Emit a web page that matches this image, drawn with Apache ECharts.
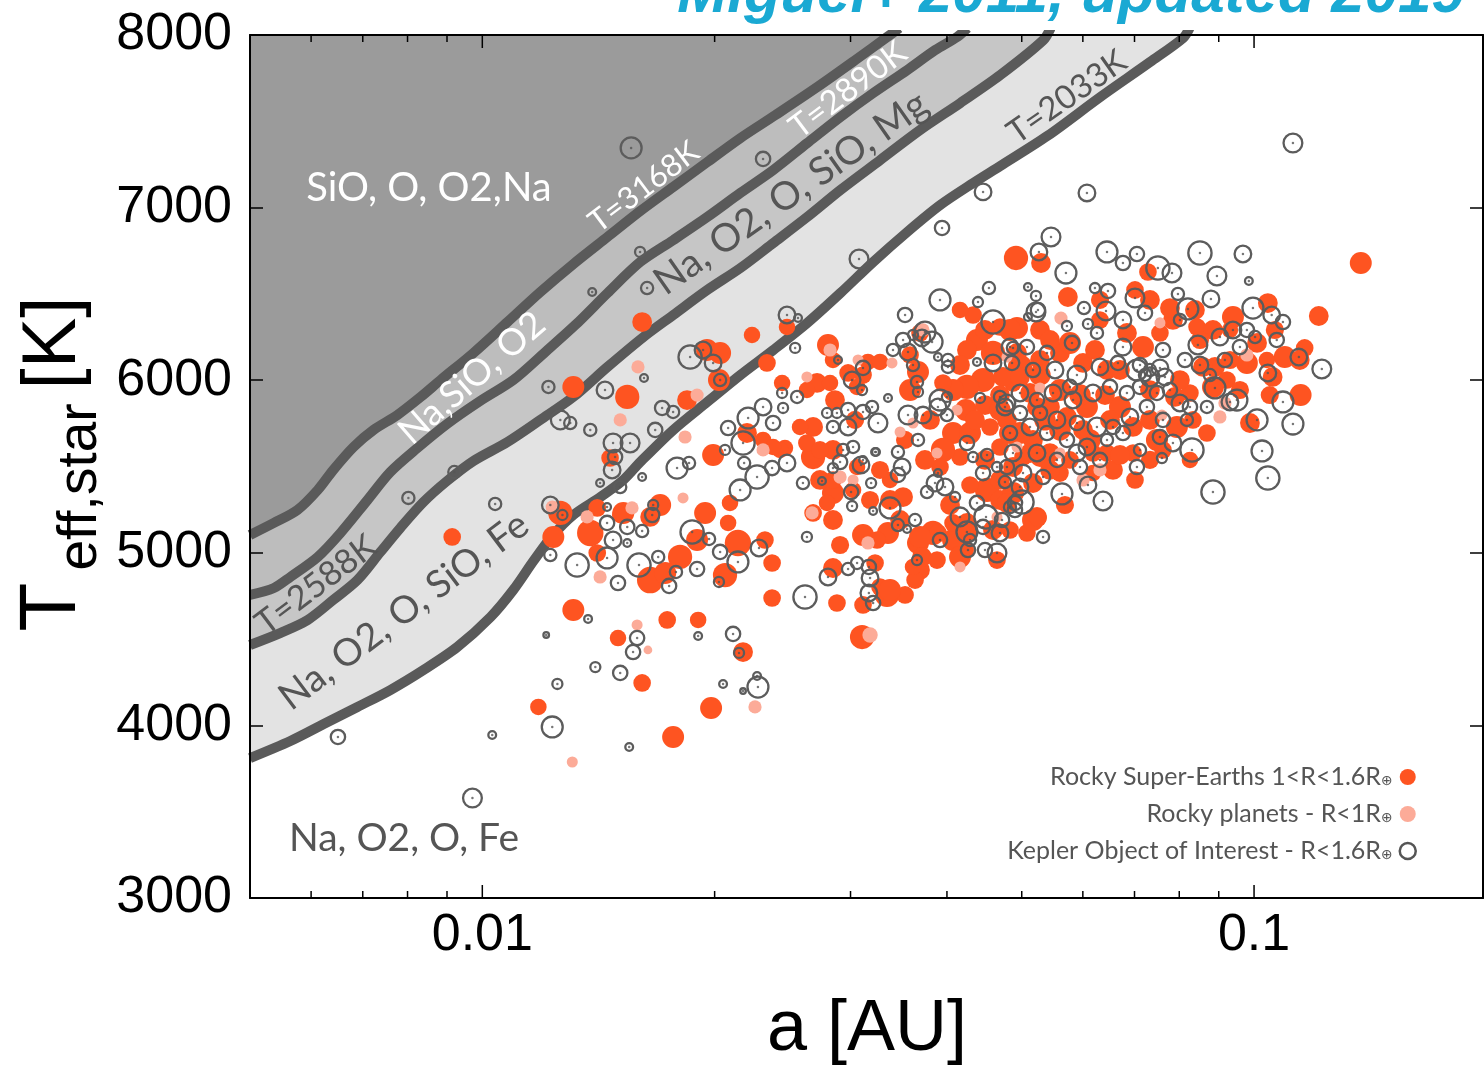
<!DOCTYPE html>
<html><head><meta charset="utf-8">
<script src="https://cdn.jsdelivr.net/npm/echarts@6/dist/echarts.min.js"></script>
<style>html,body{margin:0;padding:0;background:#fff}#c{width:1484px;height:1068px}</style>
</head><body><div id="c"></div>
<script>
// ---------- axes ----------
const xMin = 0.005, xMax = 0.198;
const yMin = 3000, yMax = 8000, yStep = 1000;
const xMajorTicks = [0.01, 0.1];
const xMinorTicks = [0.006, 0.007, 0.008, 0.009, 0.02, 0.03, 0.04, 0.05, 0.06, 0.07, 0.08, 0.09];
const xTickLabels = ['0.01', '0.1'];

// ---------- condensation boundaries [a (AU), Teff (K)] ----------
const curve3168 = [[0.005,5103],[0.00537,5173],[0.00576,5248],[0.00612,5364],[0.00641,5480],[0.00681,5613],[0.00723,5712],[0.00776,5798],[0.00832,5903],[0.00883,6001],[0.00974,6158],[0.01078,6337],[0.01189,6511],[0.01312,6673],[0.01453,6830],[0.01602,6980],[0.01768,7120],[0.01957,7264],[0.0216,7403],[0.024,7537],[0.02718,7699],[0.03044,7855],[0.03348,7989],[0.0347,8040]];
const curve2890 = [[0.005,4756],[0.00537,4796],[0.00564,4860],[0.00612,4976],[0.00655,5115],[0.0071,5306],[0.0076,5468],[0.00824,5607],[0.009,5746],[0.00994,5880],[0.01097,6001],[0.01207,6164],[0.0132,6320],[0.01453,6505],[0.01602,6685],[0.01768,6812],[0.01957,6946],[0.0216,7085],[0.02383,7218],[0.02637,7374],[0.02911,7525],[0.03211,7664],[0.03553,7797],[0.03863,7913],[0.04125,7989],[0.0425,8040]];
const curve2588 = [[0.005,4466],[0.00547,4535],[0.00594,4611],[0.00641,4727],[0.00689,4842],[0.00738,5005],[0.00783,5144],[0.00839,5294],[0.009,5416],[0.00974,5532],[0.01078,5642],[0.01189,5770],[0.01312,5903],[0.01453,6077],[0.01617,6250],[0.01768,6378],[0.01957,6523],[0.0216,6650],[0.02383,6795],[0.02637,6946],[0.02911,7102],[0.03279,7276],[0.03694,7450],[0.04162,7606],[0.0469,7768],[0.05334,7971],[0.0545,8040]];
const curve2033 = [[0.005,3811],[0.00564,3910],[0.00623,4008],[0.00689,4107],[0.0076,4205],[0.00839,4321],[0.00928,4454],[0.01025,4628],[0.01097,4785],[0.01165,4953],[0.01226,5086],[0.01312,5219],[0.01422,5323],[0.01523,5422],[0.01602,5526],[0.01768,5712],[0.01957,5874],[0.0216,6030],[0.02383,6175],[0.02637,6332],[0.02911,6505],[0.0321,6685],[0.03553,6859],[0.03921,7015],[0.04328,7143],[0.0469,7241],[0.05397,7415],[0.06321,7641],[0.07336,7844],[0.08094,7983],[0.0825,8040]];

// ---------- planets [a (AU), Teff (K), R (R_earth)] ----------
const superEarths = [
[0.01611,6337,1.2],[0.01312,5961,1.33],[0.01541,5903,1.47],[0.01955,6175,1.33],[0.02033,6158,1.33],[0.02026,6001,1.33],[0.01842,5885,1.2],
[0.00914,5092,1.07],[0.01312,4669,1.33],[0.01499,4506,1.0],[0.01182,4107,1.0],[0.01262,5231,1.47],[0.01236,5092,1.33],[0.0138,5115,1.6],
[0.01409,4999,1.07],[0.01523,5231,1.33],[0.01409,5260,1.07],[0.01464,5549,1.07],[0.01767,3933,1.33],[0.01979,4101,1.33],[0.01991,5567,1.33],
[0.02467,5607,1.0],[0.02683,5555,1.47],[0.017,5277,1.33],[0.01944,5231,1.33],[0.02094,5289,1.0],[0.02082,5173,1.0],[0.01509,5219,1.0],
[0.0165,5208,1.2],[0.01804,4976,1.47],[0.0165,4842,1.6],[0.01726,4883,1.33],[0.01898,5074,1.33],[0.02144,5057,1.6],[0.02063,4871,1.47],
[0.02324,5074,1.07],[0.02374,4941,1.07],[0.02374,4738,1.07],[0.02881,4709,1.07],[0.03105,4512,1.47],[0.03114,4698,1.07],[0.03114,5103,1.33],
[0.03355,5115,1.33],[0.03669,5057,1.33],[0.03691,4900,1.2],[0.03637,4842,1.07],[0.03345,4756,1.47],[0.0353,4756,1.07],[0.03276,4802,1.07],
[0.02847,4912,1.2],[0.03228,4941,1.07],[0.02683,5231,1.07],[0.02847,5190,1.2],[0.02847,5347,1.33],[0.02739,5422,1.2],[0.01736,4611,1.07],
[0.01904,4611,1.0],[0.02177,4425,1.2],[0.01611,4246,1.07],[0.04196,5016,1.33],[0.04073,5074,1.33],[0.03837,5115,1.47],[0.04246,5173,1.2],
[0.02236,6262,1.0],[0.02482,6308,1.0],[0.02805,6204,1.33],[0.02847,6117,1.0],[0.02338,6100,1.07],[0.02446,5984,1.0],[0.02715,5984,1.2],
[0.02634,5943,1.0],[0.02864,5885,1.2],[0.02822,5984,1.0],[0.0316,6106,1.0],[0.03276,6106,1.0],[0.03114,6030,1.07],[0.02978,6042,1.07],
[0.03059,5961,1.0],[0.03691,6274,1.07],[0.03583,6146,1.07],[0.03669,6048,1.33],[0.03583,5943,1.33],[0.04324,6378,1.07],[0.04686,6308,1.07],
[0.0493,6303,1.33],[0.0528,6291,1.2],[0.04375,6233,1.33],[0.04246,6175,1.2],[0.04589,6158,1.47],[0.04455,6001,1.47],[0.04246,5961,1.47],
[0.04073,5943,1.33],[0.03953,5984,1.07],[0.04871,5984,1.07],[0.04974,6077,1.47],[0.05125,5926,1.2],[0.0528,6117,1.2],[0.05233,5845,1.2],
[0.04073,5694,1.33],[0.04285,5694,1.33],[0.04548,5729,1.07],[0.04828,5694,1.33],[0.05171,5654,1.2],[0.04159,5555,1.07],[0.03953,5596,1.47],
[0.03918,5497,1.07],[0.04686,5613,1.07],[0.05019,5555,1.07],[0.0528,5555,1.2],[0.04508,5364,1.47],[0.04686,5306,1.2],[0.04871,5347,1.33],
[0.05171,5404,1.2],[0.05233,5208,1.2],[0.04589,5132,1.2],[0.04246,5132,1.33],[0.05078,5115,1.07],[0.04073,5173,1.07],[0.03894,5115,1.07],
[0.03691,5092,1.33],[0.03713,4976,1.2],[0.03615,4918,1.0],[0.03375,4785,1.33],[0.03247,5074,1.07],[0.03375,5306,1.2],[0.03509,5323,1.2],
[0.03375,5422,1.0],[0.02847,5596,1.2],[0.03059,5497,1.0],[0.02683,5729,1.2],[0.02634,5636,1.07],[0.0258,5729,1.0],[0.02739,5596,1.07],
[0.02431,5596,1.0],[0.02203,5694,1.2],[0.02311,5654,1.0],[0.02381,5613,1.0],[0.02847,5422,1.07],[0.02797,5289,1.0],[0.03023,5364,1.0],
[0.04159,4976,1.33],[0.03883,4958,1.07],[0.04644,4958,1.07],[0.05171,5190,1.33],[0.04285,5393,1.07],[0.04915,6708,1.47],[0.05296,6679,1.2],
[0.05738,6482,1.2],[0.07286,6627,1.07],[0.0701,6523,1.07],[0.1375,6679,1.33],[0.1213,6372,1.2],[0.1042,6447,1.2],[0.0939,6366,1.33],
[0.1163,6187,1.07],[0.1146,6117,1.2],[0.1096,6134,1.33],[0.09788,6100,1.33],[0.1039,6117,1.0],[0.1149,5914,1.33],[0.1057,6019,1.2],
[0.1009,6216,1.2],[0.08899,6077,1.2],[0.08586,6077,1.2],[0.09222,6001,1.07],[0.08846,5961,1.33],[0.07898,5903,1.2],[0.08259,5926,1.07],
[0.09878,5752,1.2],[0.07944,5729,1.33],[0.07484,5654,1.33],[0.0762,5596,1.07],[0.06565,5480,1.2],[0.05248,5202,1.07],[0.04784,5289,1.2],
[0.04828,5132,1.07],[0.06074,5845,1.33],[0.06703,5845,1.33],[0.06448,6059,1.2],[0.06003,6100,1.2],[0.05604,6158,1.2],[0.0493,6158,1.2],
[0.04828,6291,1.33],[0.05774,6216,1.33],[0.06844,6274,1.2],[0.07179,6192,1.33],[0.07552,6274,1.07],[0.07851,6349,1.2],[0.08436,6308,1.07],
[0.08846,6291,1.2],[0.09306,6291,1.0],[0.04728,6019,1.2],[0.04974,6019,1.2],[0.0544,5845,1.2],[0.05722,5787,1.2],[0.06003,5712,1.2],
[0.04974,5694,1.33],[0.04784,5770,1.2],[0.05125,5578,1.2],[0.0544,5578,1.2],[0.05774,5538,1.07],[0.04871,5497,1.2],[0.05604,5462,1.07],
[0.06184,5578,1.07],[0.06968,5729,1.2],[0.08334,5770,1.07],[0.08688,5694,1.07],[0.06968,5578,1.07],[0.06448,5578,1.07],[0.06184,5462,1.0],
[0.08383,6407,1.2],[0.06315,6349,1.07],[0.0733,6465,1.2],[0.07781,6418,1.2],[0.0701,5422,1.07],[0.04232,5827,1.33],[0.04481,5856,1.2],
[0.05604,5943,1.33],[0.0641,5914,1.2],
[0.04686,5827,1.3],[0.05359,5770,1.3],[0.06129,5654,1.3],[0.05604,5712,1.3],[0.06506,5770,1.2],[0.05949,5914,1.3],[0.0528,6030,1.3],
[0.04686,5914,1.2],[0.04349,5770,1.2],[0.04481,5538,1.2],[0.0544,5480,1.2],[0.06703,5567,1.2],[0.0733,5770,1.2],[0.06221,6175,1.2],
[0.0544,6233,1.2],[0.04481,6291,1.2],[0.04159,6088,1.2],[0.0733,5943,1.2],[0.08016,6001,1.2],[0.09306,6117,1.1],[0.09587,5943,1.1],
[0.1048,5914,1.1],[0.03803,5770,1.2],[0.03746,5538,1.2],[0.0353,5654,1.1],[0.03276,5480,1.1],[0.0318,5306,1.1],[0.03478,5190,1.2],
[0.04037,5277,1.2],[0.04686,5422,1.2],[0.05688,5277,1.1],[0.0733,5538,1.1],[0.08259,5538,1.0],[0.06703,6059,1.2],[0.08509,6233,1.1],
[0.1064,6291,1.1],[0.03041,5770,1.1],[0.02908,5045,1.1],[0.04159,6407,1.0],[0.06315,6465,1.1]
];
const rockyPlanets = [
[0.01591,6077,0.8],[0.01509,5770,0.8],[0.01232,5265,0.8],[0.01367,5208,0.8],[0.01563,5260,0.8],[0.01421,4860,0.8],[0.01308,3788,0.67],
[0.01587,4582,0.67],[0.0182,5318,0.67],[0.01639,4437,0.53],[0.02256,4107,0.8],[0.02908,5439,0.8],[0.03023,5422,0.67],[0.0316,5057,0.8],
[0.02675,5231,0.8],[0.0318,4524,0.93],[0.04159,4918,0.67],[0.01898,5914,0.8],[0.01831,5671,0.8],[0.02311,5596,0.8],[0.02634,6019,0.67],
[0.02822,6175,0.8],[0.03068,6117,0.67],[0.03395,6100,0.67],[0.03478,5700,0.67],[0.03724,6291,0.8],[0.03615,5752,0.67],[0.03883,5578,0.67],
[0.04122,5827,0.67],[0.04644,5208,0.67],[0.0528,5955,0.67],[0.05621,6360,0.8],[0.09788,6146,0.8],[0.09032,5787,0.8],[0.06315,5480,0.8],
[0.06003,5422,0.8],[0.05604,5578,0.67],[0.0493,5613,0.67],[0.04784,6134,0.67],[0.07552,6332,0.67],[0.07597,5798,0.67],[0.09167,5868,0.8]
];
const koi = [
[0.01559,7346,1.33],[0.02311,7282,0.93],[0.06074,7085,1.07],[0.04455,7091,1.07],[0.1123,7374,1.2],[0.03942,6882,0.93],[0.03077,6702,1.2],
[0.01601,6743,0.67],[0.01388,6511,0.53],[0.01635,6534,0.8],[0.01218,5961,0.8],[0.01442,5943,1.07],[0.0162,6013,0.53],[0.0171,5839,0.93],
[0.01767,5816,0.8],[0.01859,6134,1.47],[0.01932,6175,1.07],[0.01991,6100,1.07],[0.02033,6001,0.8],[0.01262,5770,1.2],[0.013,5752,0.8],
[0.0138,5712,0.8],[0.0092,5468,0.8],[0.00802,5318,0.8],[0.01039,5283,0.8],[0.01225,5277,1.07],[0.0127,5219,0.67],[0.01451,5265,0.53],
[0.01451,5173,0.93],[0.01541,5150,0.93],[0.01477,5074,1.07],[0.01541,5057,0.53],[0.01451,4970,1.33],[0.01327,4929,1.47],[0.01225,4987,0.8],
[0.01499,4825,0.93],[0.01596,4929,1.47],[0.01477,5636,1.2],[0.01554,5636,1.2],[0.01473,5480,1.07],[0.01509,5381,0.8],[0.01421,5404,0.53],
[0.01371,4617,0.53],[0.0121,4524,0.4],[0.01587,4506,0.93],[0.01568,4425,0.93],[0.01401,4338,0.67],[0.01509,4304,0.93],[0.01251,4240,0.67],
[0.01232,3991,1.33],[0.0103,3944,0.53],[0.0065,3933,0.93],[0.0155,3875,0.53],[0.00971,3579,1.2],[0.01665,5277,0.67],[0.0166,5219,0.93],
[0.01611,5126,0.8],[0.0169,4976,0.8],[0.01782,4889,0.8],[0.01746,4808,0.93],[0.0187,5121,1.47],[0.01967,5080,0.8],[0.02033,5005,0.93],
[0.01898,4906,0.93],[0.02144,4947,1.33],[0.02283,5028,1.07],[0.02026,4831,0.67],[0.01904,4518,0.53],[0.02113,4530,0.93],[0.02151,4420,0.67],
[0.02051,4240,0.53],[0.02276,4222,1.33],[0.0227,4286,0.53],[0.02177,4199,0.4],[0.02619,4744,1.47],[0.02805,4860,1.07],[0.02978,4906,0.8],
[0.03059,4941,0.8],[0.03169,4918,0.93],[0.0318,4854,1.07],[0.03169,4767,1.07],[0.03209,4709,0.93],[0.02634,5092,0.67],[0.02603,5404,0.8],
[0.03005,5352,0.93],[0.03014,5271,0.67],[0.03209,5242,0.53],[0.0319,5404,0.67],[0.03375,5260,1.33],[0.03658,4958,0.67],[0.04644,4999,1.2],
[0.04481,5016,0.93],[0.04259,5016,0.93],[0.04246,5121,1.33],[0.03918,5074,0.93],[0.04494,5208,1.47],[0.04714,5190,0.93],[0.049,5289,0.93],
[0.03551,5138,0.53],[0.03456,5161,0.8],[0.03637,5190,0.8],[0.02908,5526,0.93],[0.03095,5509,1.07],[0.02847,5491,0.67],[0.03237,5584,0.53],
[0.02755,5416,0.53],[0.02482,6378,1.07],[0.02565,6360,0.53],[0.02543,6187,0.67],[0.01675,5712,0.93],[0.01486,5555,0.93],[0.01611,5439,0.53],
[0.01788,5491,1.33],[0.01853,5520,0.8],[0.02082,5723,0.93],[0.0221,5781,1.33],[0.02311,5845,1.07],[0.02381,5752,0.93],[0.02063,5596,0.67],
[0.02177,5636,1.47],[0.02184,5520,0.8],[0.0227,5439,1.47],[0.02374,5491,0.93],[0.02482,5520,1.07],[0.02158,5364,1.33],[0.02446,5926,0.67],
[0.02558,5903,0.8],[0.02453,5839,0.67],[0.0289,6117,0.53],[0.03014,6001,1.07],[0.03114,6071,0.93],[0.03105,5943,0.67],[0.02881,5810,0.67],
[0.02797,5810,0.67],[0.02978,5827,0.93],[0.03114,5816,0.93],[0.03199,5845,0.8],[0.03256,5752,1.2],[0.02847,5729,0.8],[0.02978,5729,1.07],
[0.02934,5596,0.8],[0.03023,5613,0.8],[0.03228,5584,0.53],[0.03114,5538,0.53],[0.03355,5897,0.53],[0.03405,6175,0.8],[0.03509,6233,0.93],
[0.03561,6163,1.07],[0.03713,6245,1.07],[0.03746,6279,1.33],[0.03826,6221,1.33],[0.03615,6262,0.67],[0.0353,6378,0.93],[0.03615,6088,0.8],
[0.03658,5990,0.8],[0.03669,5932,0.67],[0.03561,5798,1.2],[0.03724,5798,1.07],[0.03669,5654,0.8],[0.03456,5584,0.8],[0.03499,5497,1.07],
[0.03456,5451,0.93],[0.04,5903,0.67],[0.03918,5885,1.33],[0.03894,5845,1.07],[0.04,5798,0.8],[0.04012,6117,0.8],[0.04012,6077,0.8],
[0.03894,6134,0.53],[0.04415,5897,0.67],[0.04686,5903,0.8],[0.04784,5868,1.07],[0.04589,6100,1.07],[0.04375,6106,0.53],[0.04871,6187,0.8],
[0.04589,6337,1.47],[0.05093,6366,0.53],[0.05248,6407,0.93],[0.03918,6465,1.33],[0.04388,6453,0.67],[0.0386,5404,1.07],[0.03769,5352,0.8],
[0.03977,5381,1.07],[0.04098,5323,0.67],[0.03894,5462,0.53],[0.04246,5636,0.93],[0.04324,5555,0.67],[0.04508,5567,0.8],[0.04455,5462,0.93],
[0.04644,5497,0.67],[0.04756,5410,0.8],[0.04974,5381,1.07],[0.04159,5208,1.2],[0.04375,5289,0.93],[0.04828,5265,0.8],[0.05004,5294,1.47],
[0.04686,5115,1.07],[0.04455,5150,0.93],[0.04285,5074,0.8],[0.05328,5092,0.8],[0.04534,6534,0.8],[0.05456,6830,1.2],[0.05263,6743,1.07],
[0.06448,6743,1.33],[0.06763,6679,0.93],[0.07051,6731,0.93],[0.08509,6737,1.47],[0.09673,6731,1.07],[0.05705,6621,1.33],[0.07506,6650,1.47],
[0.07828,6621,1.2],[0.08951,6604,1.2],[0.09846,6575,0.53],[0.05093,6540,0.53],[0.05217,6488,0.67],[0.06221,6534,0.67],[0.06467,6517,0.93],
[0.0701,6476,1.2],[0.07222,6390,0.93],[0.07968,6500,0.8],[0.08208,6413,1.33],[0.08793,6471,1.07],[0.05217,6395,1.2],[0.0602,6418,0.8],
[0.06429,6401,1.2],[0.05722,6314,0.67],[0.06092,6326,0.67],[0.06763,6349,1.07],[0.08016,6349,0.8],[0.09967,6418,1.33],[0.1054,6378,1.07],
[0.109,6337,0.93],[0.107,6233,0.93],[0.1224,6065,1.2],[0.1143,6134,1.07],[0.1042,6042,1.07],[0.109,5874,1.33],[0.1123,5746,1.33],
[0.09501,5885,1.33],[0.1009,5770,1.33],[0.1024,5590,1.33],[0.1042,5433,1.47],[0.08846,5352,1.47],[0.08309,5596,1.47],[0.08899,5955,1.33],
[0.09306,5874,1.07],[0.07851,5636,1.07],[0.07051,5497,0.93],[0.07115,5596,0.8],[0.07597,5549,0.67],[0.06372,5300,1.2],[0.05638,5341,1.33],
[0.06092,5393,1.07],[0.049,5248,0.93],[0.04784,5497,0.93],[0.06763,6192,1.07],[0.06258,6274,0.8],[0.0762,6175,0.93],[0.08457,6204,1.2],
[0.09032,6250,1.07],[0.0939,6291,1.07],[0.09788,6291,0.93],[0.09587,6192,0.93],[0.1003,6250,0.8],[0.05809,6216,0.93],[0.05391,6158,0.93],
[0.05078,6192,0.93],[0.04828,6192,1.07],[0.04857,6100,0.93],[0.05171,6059,0.93],[0.05522,6059,1.07],[0.05895,6030,1.2],[0.05774,5961,0.93],
[0.06315,6077,1.07],[0.06662,6100,0.93],[0.07051,6059,1.33],[0.0733,6019,1.2],[0.07665,6019,1.07],[0.07781,5943,0.93],[0.07484,5926,0.93],
[0.07115,5961,0.93],[0.06844,5926,0.93],[0.06506,5961,0.93],[0.06184,5926,1.07],[0.05826,5885,1.07],[0.05489,5926,1.07],[0.05233,5885,0.93],
[0.04974,5926,1.07],[0.04756,5845,1.07],[0.04974,5810,0.93],[0.0528,5810,0.93],[0.05554,5770,1.07],[0.05895,5752,0.93],[0.06258,5729,1.2],
[0.06565,5729,0.93],[0.06906,5787,1.07],[0.07264,5845,0.93],[0.0762,5770,0.93],[0.08016,5868,1.07],[0.08259,5845,0.93],[0.08688,5845,0.8],
[0.08184,5770,0.8],[0.07552,5671,0.93],[0.06763,5694,0.93],[0.06448,5654,0.8],[0.06074,5613,1.07],[0.05722,5654,0.93],[0.05391,5694,0.93],
[0.05125,5729,1.07],[0.04828,5694,0.93],[0.04871,5578,1.07],[0.05233,5578,1.07],[0.05554,5538,0.93],[0.05895,5578,1.07],[0.05949,5497,0.93],
[0.06315,5538,0.93],[0.05019,5462,1.07],[0.05328,5439,0.93],[0.07115,6088,0.93],[0.0733,6059,0.8],[0.07552,6071,1.07],[0.07222,6030,0.8],
[0.08136,6117,0.93],[0.08509,6088,1.07],[0.09167,6117,0.93],[0.08767,6030,0.8]
];

// ---------- text ----------
const titleText = 'Miguel+ 2011, updated 2019';
const seriesNames = ['Rocky Super-Earths 1<R<1.6R⊕', 'Rocky planets - R<1R⊕', 'Kepler Object of Interest - R<1.6R⊕'];
const legendLabels = ['Rocky Super-Earths 1<R<1.6R{s|⊕}', 'Rocky planets - R<1R{s|⊕}', 'Kepler Object of Interest - R<1.6R{s|⊕}'];
const regionLabels = ['SiO, O, O2,Na', 'T=3168K', 'T=2890K', 'Na,SiO, O2', 'Na, O2, O, SiO, Mg', 'T=2588K', 'Na, O2, O, SiO, Fe', 'T=2033K', 'Na, O2, O, Fe'];

const chart = echarts.init(document.getElementById('c'), null, {renderer: 'canvas'});
const RED = '#fe5421', PINK = '#fcab98', RING = '#5c5c5c', BAND_LINE = '#5a5a5a';
const SIZE_PER_R = 16.5;
const deg = Math.PI / 180;

function boundary(data, fill) {
  return {
    type: 'line', data: data, symbol: 'none', smooth: 0.3, silent: true, z: 1,
    lineStyle: {color: BAND_LINE, width: 10, join: 'round'},
    areaStyle: {origin: 'end', color: fill, opacity: 1}
  };
}
function tickSeries(data, len) {
  return {
    type: 'custom', data: data.map(v => [v, yMin]), silent: true, z: 6,
    renderItem: function (params, api) {
      const v = api.value(0);
      const pb = api.coord([v, yMin]);
      const pt = api.coord([v, yMax]);
      const st = {stroke: '#000', lineWidth: 1.5};
      return {type: 'group', children: [
        {type: 'line', shape: {x1: pb[0], y1: pb[1], x2: pb[0], y2: pb[1] - len}, style: st},
        {type: 'line', shape: {x1: pt[0], y1: pt[1], x2: pt[0], y2: pt[1] + len}, style: st}
      ]};
    }
  };
}
function txt(s, x, y, size, color, rotDeg) {
  return {type: 'text', x: x, y: y, rotation: (rotDeg || 0) * deg, z: 20,
    style: {text: s, fill: color, font: size + 'px Lato', align: 'center', verticalAlign: 'middle'}};
}

const option = {
  animation: false,
  backgroundColor: '#fff',
  grid: {left: 250, top: 35, width: 1233, height: 863, containLabel: false},
  xAxis: [
    {type: 'log', min: xMin, max: xMax, logBase: 10, z: 10,
      axisLine: {show: true, onZero: false, lineStyle: {color: '#000', width: 2}},
      axisTick: {show: false}, splitLine: {show: false}, minorTick: {show: false},
      axisLabel: {showMinLabel: false, showMaxLabel: false, margin: 12, color: '#000', fontSize: 52, fontFamily: 'Liberation Sans',
        formatter: function (v) { const i = xMajorTicks.findIndex(t => Math.abs(t - v) / t < 1e-6); return i >= 0 ? xTickLabels[i] : ''; }}},
    {type: 'log', min: xMin, max: xMax, logBase: 10, position: 'top', z: 10,
      axisLine: {show: true, onZero: false, lineStyle: {color: '#000', width: 2}},
      axisTick: {show: false}, axisLabel: {show: false}, splitLine: {show: false}}
  ],
  yAxis: [
    {type: 'value', min: yMin, max: yMax, interval: yStep, z: 10,
      axisLine: {show: true, onZero: false, lineStyle: {color: '#000', width: 2}},
      axisTick: {show: true, inside: true, length: 13, lineStyle: {color: '#000', width: 1.5}},
      splitLine: {show: false},
      axisLabel: {margin: 18, color: '#000', fontSize: 52, fontFamily: 'Liberation Sans', formatter: v => String(v)}},
    {type: 'value', min: yMin, max: yMax, interval: yStep, position: 'right', z: 10,
      axisLine: {show: true, onZero: false, lineStyle: {color: '#000', width: 2}},
      axisTick: {show: true, inside: true, length: 13, lineStyle: {color: '#000', width: 1.5}},
      axisLabel: {show: false}, splitLine: {show: false}}
  ],
  legend: {
    data: [
      {name: seriesNames[0], icon: 'circle', itemStyle: {color: RED}},
      {name: seriesNames[1], icon: 'circle', itemStyle: {color: PINK}},
      {name: seriesNames[2], icon: 'circle', itemStyle: {color: 'rgba(0,0,0,0)', borderColor: '#555', borderWidth: 2.5}}
    ],
    orient: 'vertical', align: 'right', right: 62, top: 759, itemGap: 11, itemWidth: 16, itemHeight: 16,
    selectedMode: false,
    formatter: function (name) { return legendLabels[seriesNames.indexOf(name)]; },
    textStyle: {fontSize: 25, lineHeight: 26, color: '#555', fontFamily: 'Lato', padding: [0, 2, 0, 0],
      rich: {s: {fontSize: 14, color: '#555', fontFamily: 'DejaVu Sans', padding: [8, 0, 0, 0]}}}
  },
  series: [
    boundary(curve2033, '#e3e3e3'),
    boundary(curve2588, '#c6c6c6'),
    boundary(curve2890, '#bdbdbd'),
    boundary(curve3168, '#9b9b9b'),
    {type: 'scatter', name: seriesNames[0], data: superEarths, z: 3,
      symbolSize: d => d[2] * SIZE_PER_R, itemStyle: {color: RED, opacity: 1}, emphasis: {disabled: true}},
    {type: 'scatter', name: seriesNames[1], data: rockyPlanets, z: 4,
      symbolSize: d => d[2] * SIZE_PER_R, itemStyle: {color: PINK, opacity: 1}, emphasis: {disabled: true}},
    {type: 'scatter', name: seriesNames[2], data: koi, z: 5,
      symbolSize: d => d[2] * SIZE_PER_R - 1,
      itemStyle: {color: 'rgba(0,0,0,0)', borderColor: RING, borderWidth: 2.3, opacity: 1}, emphasis: {disabled: true}},
    {type: 'scatter', name: 'koi-centre', data: koi, z: 5, symbolSize: 2.5,
      itemStyle: {color: '#555'}, emphasis: {disabled: true}, silent: true},
    tickSeries(xMajorTicks, 13),
    tickSeries(xMinorTicks, 7)
  ],
  graphic: [
    {type: 'text', x: 1071, y: 25, z: 20, style: {text: titleText, fill: '#1aa9d3', font: 'italic bold 60px "Liberation Sans"', align: 'center', verticalAlign: 'bottom'}},
    txt(regionLabels[0], 429, 188, 40, '#fff', 0),
    txt(regionLabels[1], 644, 187, 31, '#fff', 37),
    txt(regionLabels[2], 848, 90, 33, '#fff', 37),
    txt(regionLabels[3], 472, 378, 37, '#fff', 41),
    txt(regionLabels[4], 791, 193, 39, '#555', 35),
    txt(regionLabels[5], 316, 585, 34, '#555', 37),
    txt(regionLabels[6], 404, 611, 38, '#555', 37),
    txt(regionLabels[7], 1067, 97, 33, '#555', 35),
    txt(regionLabels[8], 404, 838, 39, '#555', 0),
    // axis names
    {type: 'text', x: 867, y: 1030, z: 20, style: {text: 'a [AU]', fill: '#000', font: '72px "Liberation Sans"', align: 'center', verticalAlign: 'middle'}},
    {type: 'text', x: 53, y: 607, rotation: Math.PI / 2, z: 20, style: {text: 'T', fill: '#000', font: '80px "Liberation Sans"', align: 'center', verticalAlign: 'middle'}},
    {type: 'text', x: 81, y: 487, rotation: Math.PI / 2, z: 20, style: {text: 'eff,star', fill: '#000', font: '55px "Liberation Sans"', align: 'center', verticalAlign: 'middle'}},
    {type: 'text', x: 54, y: 343, rotation: Math.PI / 2, z: 20, style: {text: '[K]', fill: '#000', font: '76px "Liberation Sans"', align: 'center', verticalAlign: 'middle'}}
  ]
};
chart.setOption(option);
</script></body></html>
